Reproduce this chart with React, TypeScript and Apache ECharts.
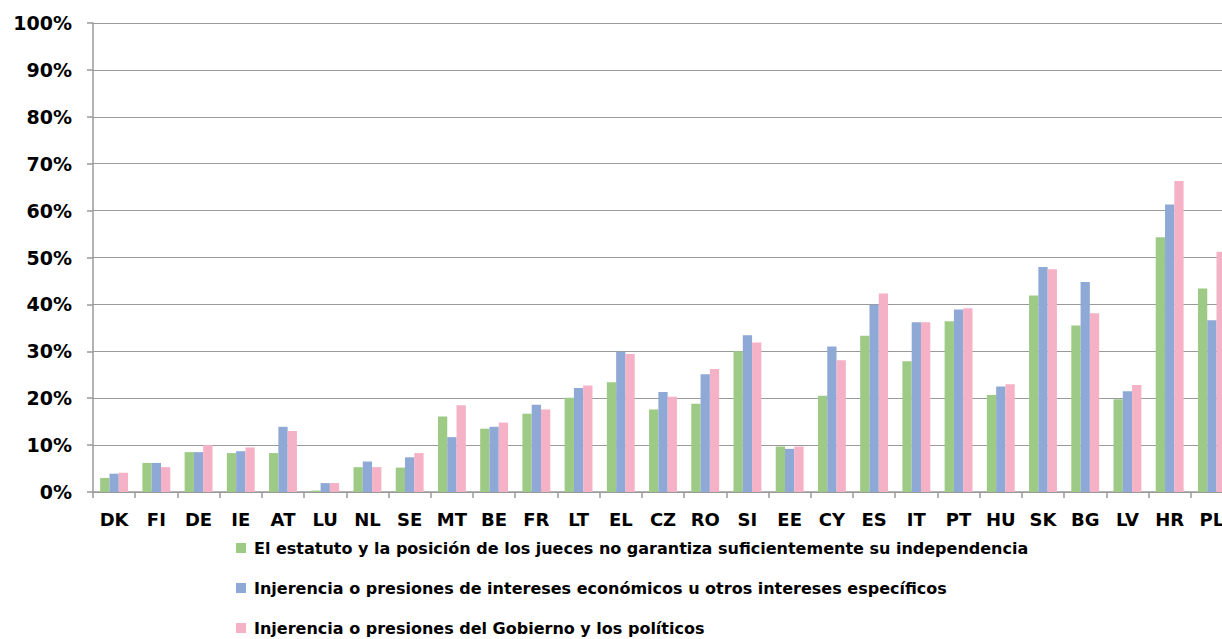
import React, { useEffect, useRef } from "react";
import * as echarts from "echarts";

const categories = ["DK", "FI", "DE", "IE", "AT", "LU", "NL", "SE", "MT", "BE", "FR", "LT", "EL", "CZ", "RO", "SI", "EE", "CY", "ES", "IT", "PT", "HU", "SK", "BG", "LV", "HR", "PL"];

const seriesNames = [
  "El estatuto y la posición de los jueces no garantiza suficientemente su independencia",
  "Injerencia o presiones de intereses económicos u otros intereses específicos",
  "Injerencia o presiones del Gobierno y los políticos",
];

const estatuto = [3.0, 6.2, 8.5, 8.3, 8.3, 0.3, 5.3, 5.2, 16.1, 13.5, 16.7, 20.1, 23.4, 17.6, 18.8, 30.0, 9.7, 20.5, 33.3, 27.9, 36.4, 20.7, 41.9, 35.5, 19.8, 54.3, 43.4];
const economicos = [3.9, 6.2, 8.5, 8.7, 13.9, 1.9, 6.5, 7.4, 11.7, 13.9, 18.6, 22.2, 29.9, 21.3, 25.1, 33.4, 9.2, 31.0, 39.9, 36.2, 38.9, 22.5, 48.0, 44.8, 21.5, 61.3, 36.6];
const gobierno = [4.1, 5.3, 10.0, 9.5, 13.0, 1.9, 5.3, 8.3, 18.5, 14.8, 17.6, 22.7, 29.4, 20.3, 26.2, 31.9, 9.7, 28.1, 42.3, 36.2, 39.2, 23.0, 47.5, 38.1, 22.8, 66.3, 51.2];

const yTicks = [0, 10, 20, 30, 40, 50, 60, 70, 80, 90, 100];

const colors = ["#9dcb86", "#8fa9d6", "#f5b1c5"];

export default function App() {
  const ref = useRef<HTMLDivElement>(null);
  useEffect(() => {
    if (!ref.current) return;
    const chart = echarts.init(ref.current, null, { renderer: "svg" });
    const font = "'DejaVu Sans', Verdana, sans-serif";
    const mk = (name: string, data: number[], color: string) => ({
      name,
      type: "bar",
      data,
      itemStyle: { color },
      barGap: "0%",
      barCategoryGap: "34%",
    });
    const legendTops = [540, 580, 620];
    chart.setOption({
      animation: false,
      backgroundColor: "#ffffff",
      grid: { left: 93, top: 23, width: 1140, height: 469, containLabel: false },
      xAxis: {
        type: "category",
        data: categories,
        axisLine: { lineStyle: { color: "#9a9a9a", width: 1.5 } },
        axisTick: { show: true, length: 6, lineStyle: { color: "#9a9a9a", width: 1.5 } },
        axisLabel: { color: "#000", fontFamily: font, fontWeight: "bold", fontSize: 18, margin: 18, interval: 0 },
      },
      yAxis: {
        type: "value",
        min: yTicks[0],
        max: yTicks[yTicks.length - 1],
        interval: 10,
        axisLine: { show: true, lineStyle: { color: "#9a9a9a", width: 1.5 } },
        axisTick: { show: true, length: 6, lineStyle: { color: "#9a9a9a", width: 1.5 } },
        splitLine: { lineStyle: { color: "#9a9a9a", width: 1.2 } },
        axisLabel: { color: "#000", fontFamily: font, fontWeight: "bold", fontSize: 19, margin: 21, formatter: "{value}%" },
      },
      legend: seriesNames.map((name, i) => ({
        orient: "horizontal",
        left: 236,
        top: legendTops[i],
        padding: 0,
        itemWidth: 10,
        itemHeight: 10,
        icon: "rect",
        selectedMode: false,
        textStyle: { color: "#000", fontFamily: font, fontWeight: "bold", fontSize: 16, padding: [0, 0, 0, 3] },
        data: [name],
      })),
      series: [
        mk(seriesNames[0], estatuto, colors[0]),
        mk(seriesNames[1], economicos, colors[1]),
        mk(seriesNames[2], gobierno, colors[2]),
      ],
    });
    return () => chart.dispose();
  }, []);
  return (
    <div style={{ position: "fixed", left: 0, top: 0, width: 1222, height: 639, overflow: "hidden", background: "#fff" }}>
      <div ref={ref} style={{ width: 1260, height: 639 }} />
    </div>
  );
}
